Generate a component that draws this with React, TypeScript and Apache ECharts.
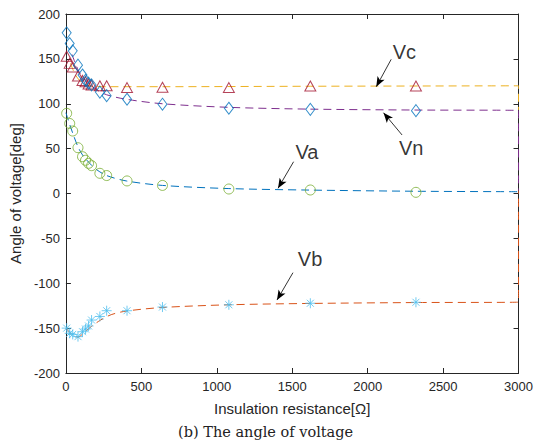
import React, { useEffect, useRef } from "react";
import * as echarts from "echarts";

// Measured resistance values [Ω]
const resist = [5, 25, 45, 80, 110, 130, 150, 170, 225, 270, 405, 640, 1080, 1620, 2320];

// Measured angles [deg]
const vcAngle = [153, 145, 141, 131, 126, 124.6, 122, 121, 120, 120, 118, 118.3, 118, 119.8, 119.8];
const vnAngle = [179, 167, 159, 143, 132, 126, 123, 121, 113, 109, 105, 99.5, 95, 93.8, 92.3];
const vaAngle = [89.3, 78, 69.6, 51, 41, 37, 33.6, 31, 22.5, 20, 14, 9, 5, 3.9, 1.3];
const vbAngle = [-150, -155.8, -157, -159.5, -154, -151, -147.6, -141, -137, -130.6, -130.6, -126.5, -124, -122.3, -121.2];

// Fitted curves
const vcFitX = [30, 60, 90, 120, 160, 270, 640, 1620, 3000, 3000];
const vcFitY = [145, 133, 126, 122, 120, 119, 119, 119.5, 120, 93];
const vnFitX = [40, 80, 110, 150, 200, 270, 400, 640, 1080, 1620, 2320, 3000, 3000];
const vnFitY = [155, 138, 130, 123, 116, 110, 105, 100, 96, 94, 93, 92.5, 3];
const vaFitX = [0, 25, 50, 80, 110, 150, 200, 270, 400, 640, 1080, 1620, 2320, 3000];
const vaFitY = [90, 77, 65, 52, 43, 35, 27, 20, 14, 9, 5.5, 3.8, 2.5, 2];
const vbFitX = [0, 40, 80, 120, 170, 230, 300, 400, 640, 1080, 1620, 2320, 3000, 3000];
const vbFitY = [-150, -157, -160, -155, -148, -141, -135, -131, -127, -124, -122.5, -121.5, -121, 3];

// Annotations: label, text position, arrow start, arrow end (data coords)
const annNames = ["Vc", "Vn", "Va", "Vb"];
const annText = [[2243, 158], [2288, 50.7], [1597, 46.6], [1618, -73.3]];
const annFrom = [[2156, 149.5], [2228, 65.2], [1509, 35.4], [1505, -88.2]];
const annTo = [[2057, 119], [2105, 90], [1406, 5.8], [1399, -118.7]];

const zip = (xs: number[], ys: number[]) => xs.map((x, i) => [x, ys[i]]);

const ASTERISK = "path://M0,5L10,5M5,0L5,10M1.5,1.5L8.5,8.5M1.5,8.5L8.5,1.5";

export default function App() {
  const ref = useRef<HTMLDivElement>(null);
  useEffect(() => {
    document.body.style.margin = "0";
    if (!ref.current) return;
    const chart = echarts.init(ref.current, undefined, { renderer: "svg" });
    const axisCol = "#262626";
    const font = "'Liberation Sans', Arial, sans-serif";
    const fitLine = (name: string, xs: number[], ys: number[], color: string) => ({
      name,
      type: "line",
      data: zip(xs, ys),
      showSymbol: false,
      symbol: "none",
      smooth: 0.3,
      lineStyle: { color, width: 1, type: [8, 5] },
      z: 2,
    });
    const markers = (name: string, ys: number[], symbol: string, size: any, color: string) => ({
      name,
      type: "scatter",
      data: zip(resist, ys),
      symbol,
      symbolSize: size,
      itemStyle: { color: "rgba(0,0,0,0)", borderColor: color, borderWidth: 1 },
      z: 3,
    });
    const axisBase = {
      axisLine: { onZero: false, lineStyle: { color: axisCol } },
      axisTick: { show: true, inside: true, length: 5, lineStyle: { color: axisCol } },
      splitLine: { show: false },
    };
    chart.setOption({
      animation: false,
      grid: { left: 64, right: 16, top: 14, bottom: 73 },
      xAxis: [
        {
          type: "value",
          min: 0,
          max: 3000,
          interval: 500,
          name: "Insulation resistance[Ω]",
          nameLocation: "middle",
          nameGap: 28,
          nameTextStyle: { fontFamily: font, fontSize: 15, color: axisCol },
          ...axisBase,
          axisLabel: { fontFamily: font, fontSize: 13, color: axisCol, margin: 7, formatter: (v: number) => String(v) },
        },
        {
          type: "value",
          position: "top",
          min: 0,
          max: 3000,
          interval: 500,
          ...axisBase,
          axisLabel: { show: false },
        },
      ],
      yAxis: [
        {
          type: "value",
          min: -200,
          max: 200,
          interval: 50,
          name: "Angle of voltage[deg]",
          nameLocation: "middle",
          nameGap: 40,
          nameRotate: 90,
          nameTextStyle: { fontFamily: font, fontSize: 15, color: axisCol },
          ...axisBase,
          axisLine: { show: true, onZero: false, lineStyle: { color: axisCol } },
          axisLabel: { fontFamily: font, fontSize: 13, color: axisCol, margin: 6 },
        },
        {
          type: "value",
          position: "right",
          min: -200,
          max: 200,
          interval: 50,
          ...axisBase,
          axisLine: { show: true, onZero: false, lineStyle: { color: axisCol } },
          axisLabel: { show: false },
        },
      ],
      series: [
        fitLine("Vc fit", vcFitX, vcFitY, "#EDB120"),
        fitLine("Vn fit", vnFitX, vnFitY, "#7E2F8E"),
        fitLine("Va fit", vaFitX, vaFitY, "#0072BD"),
        fitLine("Vb fit", vbFitX, vbFitY, "#D95319"),
        markers("Vc", vcAngle, "triangle", [11, 10], "#A2142F"),
        markers("Vn", vnAngle, "diamond", [9, 12], "#0072BD"),
        markers("Va", vaAngle, "circle", 10, "#77AC30"),
        markers("Vb", vbAngle, ASTERISK, 10, "#4DBEEE"),
        {
          name: "annotations",
          type: "scatter",
          data: annText.map((p, i) => ({ value: p, name: annNames[i] })),
          symbolSize: 0,
          label: {
            show: true,
            position: "inside",
            formatter: (p: any) => p.name,
            fontFamily: font,
            fontSize: 20,
            color: "#000",
          },
          markLine: {
            silent: true,
            symbol: ["none", "arrow"],
            symbolSize: [6, 10],
            label: { show: false },
            lineStyle: { color: "#000", width: 0.8, type: "solid" },
            data: annFrom.map((p, i) => [{ coord: p }, { coord: annTo[i] }]),
          },
          z: 5,
        },
      ],
      graphic: [
        {
          type: "text",
          left: 178,
          top: 424,
          style: {
            text: "(b) The angle of voltage",
            font: "14.5px 'DejaVu Serif', 'Liberation Serif', serif",
            fill: "#222",
          },
        },
      ],
    });
    return () => chart.dispose();
  }, []);
  return <div ref={ref} style={{ width: 536, height: 446 }} />;
}
